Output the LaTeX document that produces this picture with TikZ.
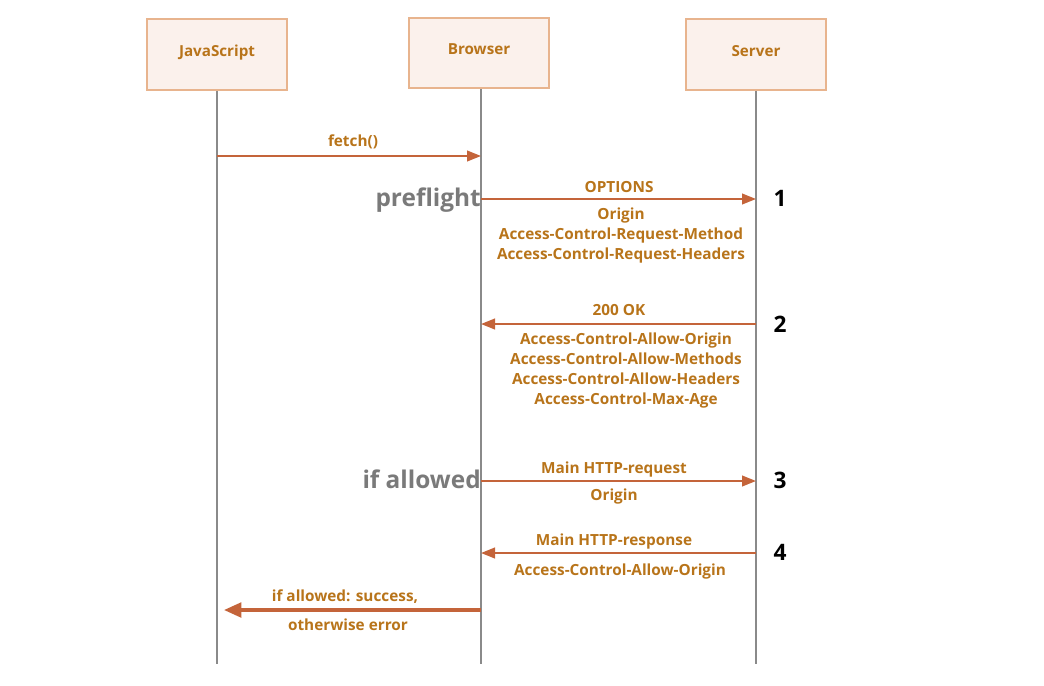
\documentclass[tikz,border=0pt]{standalone}
\usepackage{fontspec}
\setmainfont{Open Sans}
\usetikzlibrary{arrows.meta}
\definecolor{boxfill}{HTML}{FBF1EC}
\definecolor{boxline}{HTML}{E8B48E}
\definecolor{msgtext}{HTML}{B8741A}
\definecolor{msgline}{HTML}{C4643A}
\definecolor{lifeline}{HTML}{8A8A8A}
\definecolor{phase}{HTML}{7A7A7A}
\tikzset{
  actor/.style={draw=boxline, line width=1.5pt, fill=boxfill, minimum width=105pt, minimum height=53pt,
    text height=8pt, text depth=5pt, text=msgtext, font=\bfseries\fontsize{11.4}{13}\selectfont},
  msg/.style={draw=msgline, line width=1.5pt, -{Triangle[length=10.5pt, width=8pt]}},
  bigmsg/.style={draw=msgline, line width=2.3pt, -{Triangle[length=13pt, width=11pt]}},
  lbl/.style={text=msgtext, font=\bfseries\fontsize{11.5}{13}\selectfont, inner sep=0pt},
  phaselbl/.style={text=phase, font=\bfseries\fontsize{18.3}{21}\selectfont, inner sep=0pt, anchor=east},
  stepno/.style={text=black, font=\bfseries\fontsize{17}{20}\selectfont, inner sep=0pt}
}
\begin{document}
\begin{tikzpicture}[x=0.75pt, y=-0.75pt]
    \useasboundingbox (0,0) rectangle (1044,685);

    % actors
    \node[actor] (js) at (217, 54.5) {JavaScript};
    \node[actor] (browser) at (479, 53) {Browser};
    \node[actor] (server) at (756, 54.5) {Server};

    % lifelines
    \coordinate (js-end) at (217, 664);
    \coordinate (browser-top) at (481, 89);
    \coordinate (browser-end) at (481, 664);
    \coordinate (server-end) at (756, 664);
    \draw[lifeline, line width=0.9pt] (js.south) -- (js-end);
    \draw[lifeline, line width=0.9pt] (browser-top) -- (browser-end);
    \draw[lifeline, line width=0.9pt] (server.south) -- (server-end);

    % fetch
    \coordinate (js-fetch) at (217, 156);
    \coordinate (browser-fetch) at (481, 156);
    \draw[msg] (js-fetch) -- (browser-fetch);
    \node[lbl] (fetch) at (353, 141.5) {fetch()};

    % preflight
    \coordinate (browser-opt) at (481, 199);
    \coordinate (server-opt) at (756, 199);
    \draw[msg] (browser-opt) -- (server-opt);
    \node[phaselbl] (preflight) at (481, 200) {preflight};
    \node[lbl] (options) at (619, 187.5) {OPTIONS};
    \node[lbl, align=center] (reqhdr) at (621, 236) {Origin\\[2pt]Access-Control-Request-Method\\[2pt]Access-Control-Request-Headers};
    \node[stepno] (n1) at (780, 198) {1};

    % 200 OK
    \coordinate (server-ok) at (756, 324);
    \coordinate (browser-ok) at (481, 324);
    \draw[msg] (server-ok) -- (browser-ok);
    \node[lbl] (ok) at (619, 310.5) {200 OK};
    \node[lbl, align=center] (allowhdr) at (626, 370.5) {Access-Control-Allow-Origin\\[2pt]Access-Control-Allow-Methods\\[2pt]Access-Control-Allow-Headers\\[2pt]Access-Control-Max-Age};
    \node[stepno] (n2) at (780, 324) {2};

    % main request
    \coordinate (browser-req) at (481, 481);
    \coordinate (server-req) at (756, 481);
    \draw[msg] (browser-req) -- (server-req);
    \node[phaselbl] (allowed) at (481, 479.5) {if allowed};
    \node[lbl] (mainreq) at (614, 469.5) {Main HTTP-request};
    \node[lbl] (origin) at (614, 497) {Origin};
    \node[stepno] (n3) at (780, 480) {3};

    % main response
    \coordinate (server-resp) at (756, 553);
    \coordinate (browser-resp) at (481, 553);
    \draw[msg] (server-resp) -- (browser-resp);
    \node[lbl] (mainresp) at (614, 541.5) {Main HTTP-response};
    \node[lbl] (allowresp) at (620, 571.5) {Access-Control-Allow-Origin};
    \node[stepno] (n4) at (780, 552) {4};

    % result
    \coordinate (browser-res) at (481, 610);
    \coordinate (js-res) at (224, 610);
    \draw[bigmsg] (browser-res) -- (js-res);
    \node[lbl] (success) at (345, 596.5) {if allowed: success,};
    \node[lbl] (error) at (348, 624.5) {otherwise error};
\end{tikzpicture}
\end{document}
